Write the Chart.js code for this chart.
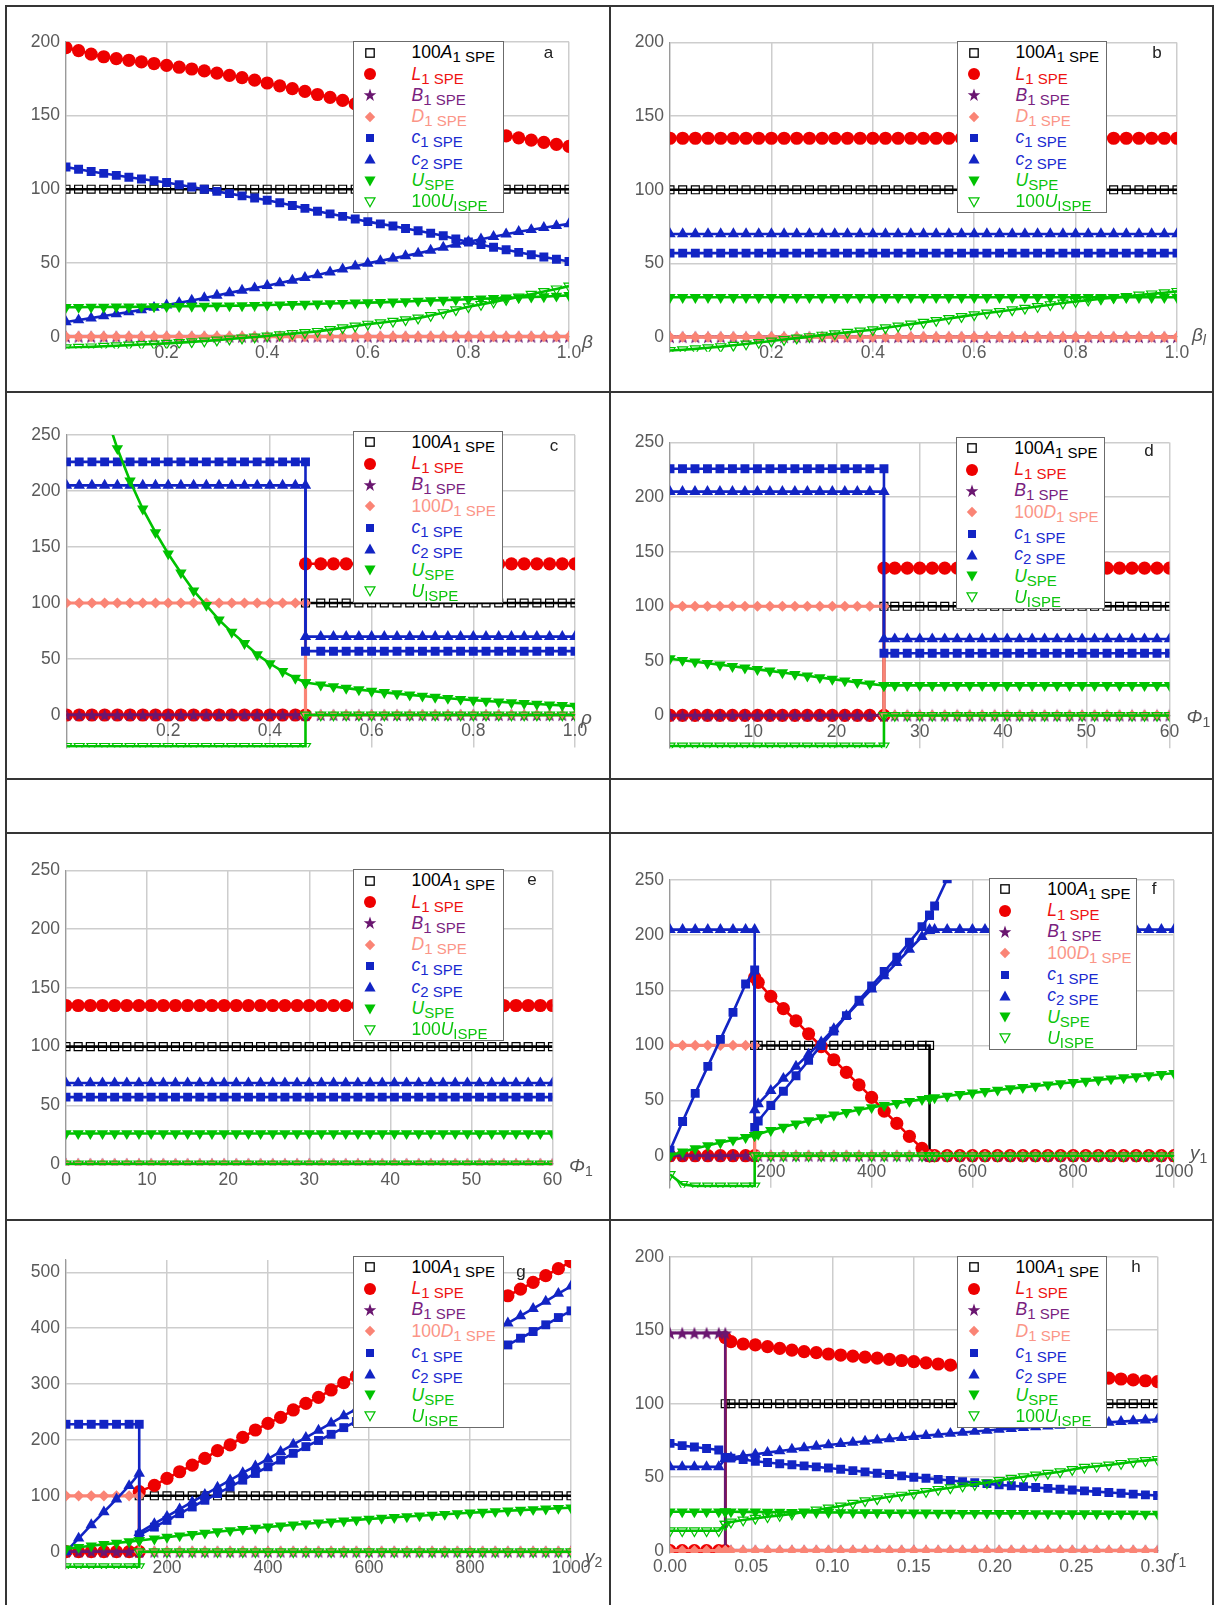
<!DOCTYPE html>
<html>
<head>
<meta charset="utf-8">
<title>SPE quantities versus model parameters</title>
<script src="https://cdn.jsdelivr.net/npm/chart.js@4.4.0/dist/chart.umd.min.js"></script>
<style>
  html, body { margin: 0; padding: 0; background: #ffffff; }
  #page { position: relative; width: 1219px; height: 1605px; overflow: hidden;
          font-family: "Liberation Sans", Arial, Helvetica, sans-serif; }
  .rule { position: absolute; background: #353535; }
  canvas { position: absolute; }
  .leg { position: absolute; background: #ffffff; border: 1.5px solid #6b6b6b; box-sizing: border-box; }
  .leg .row { position: absolute; left: 0; right: 0; height: 21px; }
  .leg svg { position: absolute; top: 3.5px; }
  .leg .lbl { position: absolute; top: 0; white-space: nowrap; font-size: 17.5px; line-height: 21px; }
  .leg sub { font-size: 15px; vertical-align: -4px; line-height: 0; }
  .tag { position: absolute; font-size: 17px; color: #222; transform: translate(-50%, -50%); line-height: 1; }
  .axname { position: absolute; font-size: 19px; color: #555; white-space: nowrap; line-height: 1; transform: translateY(-50%); }
  .axname sub { font-size: 14px; vertical-align: -4px; line-height: 0; }
</style>
</head>
<body>
<div id="page"></div>
<script>
// ---------------------------------------------------------------
// Series values. Order inside every panel:
// 100A1, L1, B1, D1 (or 100D1), c1, c2, U, U_I (or 100U_I)
// ---------------------------------------------------------------

// (a) versus beta
const aX = [0,0.025,0.05,0.075,0.1,0.125,0.15,0.175,0.2,0.225,
  0.25,0.275,0.3,0.325,0.35,0.375,0.4,0.425,0.45,0.475,
  0.5,0.525,0.55,0.575,0.6,0.625,0.65,0.675,0.7,0.725,
  0.75,0.775,0.8,0.825,0.85,0.875,0.9,0.925,0.95,0.975,1];
const aA = [100,100,100,100,100,100,100,100,100,100,100,100,100,100,100,100,100,100,100,100,
  100,100,100,100,100,100,100,100,100,100,100,100,100,100,100,100,100,100,100,100,100];
const aL = [196,194,191.6,189.8,188.5,187.4,186.3,185.2,184,182.7,
  181.5,180.2,178.7,177.2,175.7,174,172,170.1,168.2,166.3,
  164.2,162.3,160.2,157.8,155.8,154,152.2,150.4,148.6,146.8,
  145,143.2,141.4,139.6,137.8,136.2,134.8,133.3,131.8,130.4,129];
const aB = [0,0,0,0,0,0,0,0,0,0,0,0,0,0,0,0,0,0,0,0,0,0,0,0,0,0,0,0,0,0,0,0,0,0,0,0,0,0,0,0,0];
const aD = [0,0,0,0,0,0,0,0,0,0,0,0,0,0,0,0,0,0,0,0,0,0,0,0,0,0,0,0,0,0,0,0,0,0,0,0,0,0,0,0,0];
const aC1 = [115,113.5,112,110.7,109.4,108.1,106.9,105.7,104.5,103,
  101.5,100,98.5,97,95.5,94,92.5,90.8,89,87,
  85,83.3,81.6,79.8,78,76.5,75,73.4,71.8,70.1,
  68.4,66.2,64.2,62.4,60.6,58.9,57.2,55.6,54,52.5,51];
const aC2 = [10,11.3,12.6,14,15.4,16.8,18.2,19.8,21.4,23,
  24.6,26.3,28,29.7,31.4,33,34.6,36.4,38.2,40,
  41.8,43.8,45.8,47.8,49.7,51.4,53.1,54.8,56.5,58.5,
  60.5,62.5,64.4,66.1,67.8,69.5,71.2,72.5,73.9,75.2,76.5];
const aU = [20,20,20.1,20.1,20.2,20.2,20.3,20.4,20.5,20.6,
  20.7,20.8,20.9,21,21.1,21.3,21.5,21.7,21.9,22.1,
  22.3,22.5,22.7,22.9,23.1,23.3,23.6,23.9,24.2,24.5,
  24.8,25.1,25.4,25.7,26,26.3,26.6,26.9,27.2,27.6,28];
const aUI = [-7.5,-7.2,-6.9,-6.5,-6.1,-5.7,-5.3,-4.9,-4.5,-4,
  -3.5,-2.9,-2.3,-1.6,-0.9,-0.2,0.5,1.3,2.1,2.8,
  3.6,4.8,6,7.2,8.5,9.5,10.5,11.5,12.6,14.4,
  16.3,18.3,20.3,21.9,23.6,25.3,27,28.8,30.6,32.4,34.3];

// (b) versus beta_l
const bX = [0,0.025,0.05,0.075,0.1,0.125,0.15,0.175,0.2,0.225,
  0.25,0.275,0.3,0.325,0.35,0.375,0.4,0.425,0.45,0.475,
  0.5,0.525,0.55,0.575,0.6,0.625,0.65,0.675,0.7,0.725,
  0.75,0.775,0.8,0.825,0.85,0.875,0.9,0.925,0.95,0.975,1];
const bA = [100,100,100,100,100,100,100,100,100,100,100,100,100,100,100,100,100,100,100,100,
  100,100,100,100,100,100,100,100,100,100,100,100,100,100,100,100,100,100,100,100,100];
const bL = [135,135,135,135,135,135,135,135,135,135,135,135,135,135,135,135,135,135,135,135,
  135,135,135,135,135,135,135,135,135,135,135,135,135,135,135,135,135,135,135,135,135];
const bB = [0,0,0,0,0,0,0,0,0,0,0,0,0,0,0,0,0,0,0,0,0,0,0,0,0,0,0,0,0,0,0,0,0,0,0,0,0,0,0,0,0];
const bD = [0,0,0,0,0,0,0,0,0,0,0,0,0,0,0,0,0,0,0,0,0,0,0,0,0,0,0,0,0,0,0,0,0,0,0,0,0,0,0,0,0];
const bC1 = [57,57,57,57,57,57,57,57,57,57,57,57,57,57,57,57,57,57,57,57,
  57,57,57,57,57,57,57,57,57,57,57,57,57,57,57,57,57,57,57,57,57];
const bC2 = [70,70,70,70,70,70,70,70,70,70,70,70,70,70,70,70,70,70,70,70,
  70,70,70,70,70,70,70,70,70,70,70,70,70,70,70,70,70,70,70,70,70];
const bU = [27,27,27,27,27,27,27,27,27,27,27,27,27,27,27,27,27,27,27,27,
  27,27,27,27,27,27,27,27,27,27,27,27,27,27,27,27,27,27,27,27,27];
const bUI = [-9.2,-8.6,-8,-7.3,-6.5,-5.6,-4.7,-3.7,-2.7,-1.7,
  -0.7,0.3,1.3,2.3,3.2,4.1,5,6.3,7.5,8.8,
  10,11.3,12.6,13.9,15.2,16.3,17.4,18.5,19.6,20.8,
  22,23.1,24.2,25.1,26,26.8,27.6,28.5,29.3,30.1,31];

// (c) versus rho, switch at rho = 0.47
const cX = [0,0.025,0.05,0.075,0.1,0.125,0.15,0.175,0.2,0.225,
  0.25,0.275,0.3,0.325,0.35,0.375,0.4,0.425,0.45,0.47,
  0.47,0.5,0.525,0.55,0.575,0.6,0.625,0.65,0.675,0.7,
  0.725,0.75,0.775,0.8,0.825,0.85,0.875,0.9,0.925,0.95,0.975,1];
const cA = [0,0,0,0,0,0,0,0,0,0,0,0,0,0,0,0,0,0,0,0,
  100,100,100,100,100,100,100,100,100,100,100,100,100,100,100,100,100,100,100,100,100,100];
const cL = [0,0,0,0,0,0,0,0,0,0,0,0,0,0,0,0,0,0,0,0,
  135,135,135,135,135,135,135,135,135,135,135,135,135,135,135,135,135,135,135,135,135,135];
const cB = [0,0,0,0,0,0,0,0,0,0,0,0,0,0,0,0,0,0,0,0,
  0,0,0,0,0,0,0,0,0,0,0,0,0,0,0,0,0,0,0,0,0,0];
const cD = [100,100,100,100,100,100,100,100,100,100,100,100,100,100,100,100,100,100,100,100,
  0,0,0,0,0,0,0,0,0,0,0,0,0,0,0,0,0,0,0,0,0,0];
const cC1 = [226,226,226,226,226,226,226,226,226,226,226,226,226,226,226,226,226,226,226,226,
  57,57,57,57,57,57,57,57,57,57,57,57,57,57,57,57,57,57,57,57,57,57];
const cC2 = [205,205,205,205,205,205,205,205,205,205,205,205,205,205,205,205,205,205,205,205,
  70,70,70,70,70,70,70,70,70,70,70,70,70,70,70,70,70,70,70,70,70,70];
const cU = [400,350,307,272,238,209,184,163,144,127,
  111,98,85,74,64,54,46,39,33,29,
  29,27,25.5,24,22.7,21.4,20.2,19.1,18,17,
  16,15,14.1,13.3,12.5,11.8,11.1,10.4,9.8,9.2,8.6,8];
const cUI = [-28,-28,-28,-28,-28,-28,-28,-28,-28,-28,-28,-28,-28,-28,-28,-28,-28,-28,-28,-28,
  0,0,0,0,0,0,0,0,0,0,0,0,0,0,0,0,0,0,0,0,0,0];

// (d) versus Phi_1, switch at Phi_1 = 25.7
const dX = [0,1.5,3,4.5,6,7.5,9,10.5,12,13.5,15,16.5,18,19.5,21,22.5,24,25.7,
  25.7,27,28.5,30,31.5,33,34.5,36,37.5,39,40.5,42,43.5,45,46.5,48,49.5,51,52.5,54,55.5,57,58.5,60];
const dA = [0,0,0,0,0,0,0,0,0,0,0,0,0,0,0,0,0,0,
  100,100,100,100,100,100,100,100,100,100,100,100,100,100,100,100,100,100,100,100,100,100,100,100];
const dL = [0,0,0,0,0,0,0,0,0,0,0,0,0,0,0,0,0,0,
  135,135,135,135,135,135,135,135,135,135,135,135,135,135,135,135,135,135,135,135,135,135,135,135];
const dB = [0,0,0,0,0,0,0,0,0,0,0,0,0,0,0,0,0,0,
  0,0,0,0,0,0,0,0,0,0,0,0,0,0,0,0,0,0,0,0,0,0,0,0];
const dD = [100,100,100,100,100,100,100,100,100,100,100,100,100,100,100,100,100,100,
  0,0,0,0,0,0,0,0,0,0,0,0,0,0,0,0,0,0,0,0,0,0,0,0];
const dC1 = [226,226,226,226,226,226,226,226,226,226,226,226,226,226,226,226,226,226,
  57,57,57,57,57,57,57,57,57,57,57,57,57,57,57,57,57,57,57,57,57,57,57,57];
const dC2 = [205,205,205,205,205,205,205,205,205,205,205,205,205,205,205,205,205,205,
  70,70,70,70,70,70,70,70,70,70,70,70,70,70,70,70,70,70,70,70,70,70,70,70];
const dU = [52,50.6,49.2,47.8,46.4,45,43.6,42.2,40.8,39.3,37.8,36.3,34.8,33.3,31.8,30.3,28.9,27.5,
  27.5,27.5,27.5,27.5,27.5,27.5,27.5,27.5,27.5,27.5,27.5,27.5,27.5,27.5,27.5,27.5,27.5,27.5,27.5,27.5,27.5,27.5,27.5,27.5];
const dUI = [-28,-28,-28,-28,-28,-28,-28,-28,-28,-28,-28,-28,-28,-28,-28,-28,-28,-28,
  0,0,0,0,0,0,0,0,0,0,0,0,0,0,0,0,0,0,0,0,0,0,0,0];

// (e) versus phi_1
const eX = [0,1.5,3,4.5,6,7.5,9,10.5,12,13.5,15,16.5,18,19.5,21,22.5,24,25.5,27,28.5,
  30,31.5,33,34.5,36,37.5,39,40.5,42,43.5,45,46.5,48,49.5,51,52.5,54,55.5,57,58.5,60];
const eA = [100,100,100,100,100,100,100,100,100,100,100,100,100,100,100,100,100,100,100,100,
  100,100,100,100,100,100,100,100,100,100,100,100,100,100,100,100,100,100,100,100,100];
const eL = [135,135,135,135,135,135,135,135,135,135,135,135,135,135,135,135,135,135,135,135,
  135,135,135,135,135,135,135,135,135,135,135,135,135,135,135,135,135,135,135,135,135];
const eB = [0,0,0,0,0,0,0,0,0,0,0,0,0,0,0,0,0,0,0,0,0,0,0,0,0,0,0,0,0,0,0,0,0,0,0,0,0,0,0,0,0];
const eD = [0,0,0,0,0,0,0,0,0,0,0,0,0,0,0,0,0,0,0,0,0,0,0,0,0,0,0,0,0,0,0,0,0,0,0,0,0,0,0,0,0];
const eC1 = [57,57,57,57,57,57,57,57,57,57,57,57,57,57,57,57,57,57,57,57,
  57,57,57,57,57,57,57,57,57,57,57,57,57,57,57,57,57,57,57,57,57];
const eC2 = [69,69,69,69,69,69,69,69,69,69,69,69,69,69,69,69,69,69,69,69,
  69,69,69,69,69,69,69,69,69,69,69,69,69,69,69,69,69,69,69,69,69];
const eU = [26,26,26,26,26,26,26,26,26,26,26,26,26,26,26,26,26,26,26,26,
  26,26,26,26,26,26,26,26,26,26,26,26,26,26,26,26,26,26,26,26,26];
const eUI = [0,0,0,0,0,0,0,0,0,0,0,0,0,0,0,0,0,0,0,0,0,0,0,0,0,0,0,0,0,0,0,0,0,0,0,0,0,0,0,0,0];

// (f) versus y_1, switches at 168 and 515
const fX = [0,25,50,75,100,125,150,168,
  168,175,200,225,250,275,300,325,350,375,400,425,450,475,500,515,
  515,525,550,575,600,625,650,675,700,725,750,775,800,825,850,875,900,925,950,975,1000];
const fA = [0,0,0,0,0,0,0,0,
  100,100,100,100,100,100,100,100,100,100,100,100,100,100,100,100,
  0,0,0,0,0,0,0,0,0,0,0,0,0,0,0,0,0,0,0,0,0];
const fL = [0,0,0,0,0,0,0,0,
  161.7,157.2,144.5,133.3,122.2,110.5,99,87,75.5,64.2,52.9,40.5,29.3,17.5,6.7,0,
  0,0,0,0,0,0,0,0,0,0,0,0,0,0,0,0,0,0,0,0,0];
const fB = [0,0,0,0,0,0,0,0,
  0,0,0,0,0,0,0,0,0,0,0,0,0,0,0,0,
  0,0,0,0,0,0,0,0,0,0,0,0,0,0,0,0,0,0,0,0,0];
const fD = [100,100,100,100,100,100,100,100,
  0,0,0,0,0,0,0,0,0,0,0,0,0,0,0,0,
  0,0,0,0,0,0,0,0,0,0,0,0,0,0,0,0,0,0,0,0,0];
const fC1 = [5,31,56.5,81,105.5,130,155.7,168.4,
  25.7,31.5,45.5,58.5,72.5,86.5,100,113,127,141,154,167,180,193.5,207.7,218,
  218,226.4,251,272,293,314,335,356,377,398,419,440,461,482,503,524,545,566,587,608,629];
const fC2 = [205,205,205,205,205,205,205,205,
  41.4,47,59,70,81,92,103,115,127,139,151,163,175,187,198.6,204,
  205,205,205,205,205,205,205,205,205,205,205,205,205,205,205,205,205,205,205,205,205];
const fU = [0,3.5,6.5,9.3,11.9,14.3,16.7,18.4,
  18.4,19.5,23,26,29,31.8,34.5,37,39.4,41.6,43.7,45.7,47.6,49.4,51.1,52.1,
  52.1,52.7,54.2,55.6,57,58.3,59.6,60.8,62,63.2,64.4,65.5,66.6,67.7,68.8,69.8,70.8,71.8,72.8,73.8,74.8];
const fUI = [-17,-26,-27.5,-27.5,-27.5,-27.5,-27.5,-27.5,
  0,0,0,0,0,0,0,0,0,0,0,0,0,0,0,0,
  0,0,0,0,0,0,0,0,0,0,0,0,0,0,0,0,0,0,0,0,0];

// (g) versus y_2, switch at 145
const gX = [0,25,50,75,100,125,145,
  145,175,200,225,250,275,300,325,350,375,400,425,450,475,500,525,550,575,600,625,650,675,700,
  725,750,775,800,825,850,875,900,925,950,975,1000];
const gA = [0,0,0,0,0,0,0,
  100,100,100,100,100,100,100,100,100,100,100,100,100,100,100,100,100,100,100,100,100,100,100,
  100,100,100,100,100,100,100,100,100,100,100,100];
const gL = [0,0,0,0,0,0,0,
  107.4,118.7,131.3,143,155,167,180.8,191,204.6,217.8,229.7,240.5,253.6,265.5,276.2,289.4,302.5,314,326,338,350,362,374,
  386,398,410,422,434,446,458,470,482,494,506.5,519];
const gB = [0,0,0,0,0,0,0,
  0,0,0,0,0,0,0,0,0,0,0,0,0,0,0,0,0,0,0,0,0,0,0,
  0,0,0,0,0,0,0,0,0,0,0,0];
const gD = [100,100,100,100,100,100,100,
  0,0,0,0,0,0,0,0,0,0,0,0,0,0,0,0,0,0,0,0,0,0,0,
  0,0,0,0,0,0,0,0,0,0,0,0];
const gC1 = [228,228,228,228,228,228,228,
  30,44,56,68,80,92,104,116,128,140,152,164,176,188,199,210,222,233,244,256,267,279,290,
  302,313,325,336,347,359,370,382,394,406,419,431];
const gC2 = [0,24,48,71,94,118,140,
  34,50,63,76,89,102,115,128,141,153,166,179,192,204,217,230,243,255,268,281,294,306,319,
  332,345,357,370,383,396,409,422,435,448,462,475];
const gU = [5,8,10.5,13,15.5,18,20,
  20,23,26,28.5,31,33.5,35.8,38,40.2,42.3,44.3,46.2,48.1,50,51.8,53.5,55.2,56.9,58.5,60,61.5,62.9,64.3,
  65.7,67,68.3,69.6,70.8,72,73.2,74.4,75.5,76.6,77.7,78.7];
const gUI = [-27,-27,-27,-27,-27,-27,-27,
  0,0,0,0,0,0,0,0,0,0,0,0,0,0,0,0,0,0,0,0,0,0,0,
  0,0,0,0,0,0,0,0,0,0,0,0];

// (h) versus r_1, switch at 0.034
const hX = [0,0.0075,0.015,0.0225,0.03,0.034,
  0.034,0.0375,0.045,0.0525,0.06,0.0675,0.075,0.0825,0.09,0.0975,
  0.105,0.1125,0.12,0.1275,0.135,0.1425,0.15,0.1575,0.165,0.1725,
  0.18,0.1875,0.195,0.2025,0.21,0.2175,0.225,0.2325,0.24,0.2475,
  0.255,0.2625,0.27,0.2775,0.285,0.2925,0.3];
const hA = [0,0,0,0,0,0,
  100,100,100,100,100,100,100,100,100,100,100,100,100,100,100,100,100,100,100,100,
  100,100,100,100,100,100,100,100,100,100,100,100,100,100,100,100,100];
const hL = [0,0,0,0,0,0,
  145,142.2,140.6,140,138.8,137.6,136.5,135.4,134.7,133.8,
  133.1,132.4,131.7,131,130.2,129.4,128.6,127.8,127,126.3,
  125.6,124.9,124.2,123.5,122.8,122.1,121.4,120.7,120,119.3,
  118.6,118,117.4,116.8,116.2,115.6,115];
const hB = [148,148,148,148,148,148,
  0,0,0,0,0,0,0,0,0,0,0,0,0,0,0,0,0,0,0,0,
  0,0,0,0,0,0,0,0,0,0,0,0,0,0,0,0,0];
const hD = [0,0,0,0,0,0,
  0,0,0,0,0,0,0,0,0,0,0,0,0,0,0,0,0,0,0,0,
  0,0,0,0,0,0,0,0,0,0,0,0,0,0,0,0,0];
const hC1 = [73,71.5,70.5,69.5,68.5,63.5,
  63.5,63,62,60.8,60,59.2,58.5,57.7,57,56.3,
  55.4,54.5,53.6,52.7,51.8,50.9,50,49.3,48.5,47.8,
  47,46.3,45.6,44.8,44.2,43.6,43,42.4,41.8,41.3,
  40.7,40.2,39.6,39.1,38.5,38,37.5];
const hC2 = [57,57,57,57,57,62.5,
  62.5,63.3,64.5,65.6,66.7,67.8,68.9,69.9,70.9,71.9,
  72.8,73.6,74.4,75.2,76,76.8,77.6,78.3,79,79.7,
  80.4,81.1,81.8,82.4,83,83.6,84.2,84.7,85.2,85.8,
  86.3,86.8,87.3,87.8,88.3,88.8,89.3];
const hU = [26.5,26.5,26.5,26.5,26.5,26.5,
  26.5,26.5,26.4,26.4,26.3,26.3,26.2,26.2,26.1,26.1,
  26,26,25.9,25.9,25.8,25.8,25.7,25.7,25.6,25.6,
  25.5,25.5,25.5,25.4,25.4,25.4,25.3,25.3,25.3,25.2,
  25.2,25.2,25.1,25.1,25.1,25,25];
const hUI = [13.6,13.6,13.6,13.6,13.6,18,
  18,19.5,20.9,22,23.1,24,25,26.4,27.7,29,
  30.4,32.2,34,35.3,36.7,37.8,39,40.3,41.7,42.8,
  44,45.1,46.3,47.7,49.2,50.3,51.5,52.6,53.7,55.2,
  56.7,57.5,58.3,59.4,60.5,61.3,62.1];

// ---------------------------------------------------------------
// Styling
// ---------------------------------------------------------------
Chart.defaults.font.family = '"Liberation Sans", Arial, Helvetica, sans-serif';

const INK = {
  black: '#000000', red: '#ee0000', purple: '#6a1670', pink: '#fa8475',
  blue: '#1224c4', green: '#00c200'
};
const TXT = {
  black: '#000000', red: '#ee1111', purple: '#7a1f80', pink: '#fb9587',
  blue: '#1a2ad0', green: '#0cc40c'
};
const GRID = '#cdcdcd';
const AXIS = '#9a9a9a';
const TICK = '#5a5a5a';
const YW = 48; // reserved width of the y axis column

function makeStar(size, color) {
  const c = document.createElement('canvas');
  c.width = size; c.height = size;
  const g = c.getContext('2d');
  const r = size / 2, ri = r * 0.42;
  g.beginPath();
  for (let k = 0; k < 10; k++) {
    const ang = -Math.PI / 2 + k * Math.PI / 5;
    const rr = (k % 2) ? ri : r;
    g.lineTo(r + rr * Math.cos(ang), r + 0.6 + rr * Math.sin(ang));
  }
  g.closePath();
  g.fillStyle = color;
  g.fill();
  return c;
}
const STAR = makeStar(14, INK.purple);

const MARKS = [
  { color: INK.black,  style: 'rect',     r: 5.6, fill: 'rgba(0,0,0,0)', pw: 1.2, rot: 0, lw: 2.6 },
  { color: INK.red,    style: 'circle',   r: 6.6, fill: INK.red,    pw: 0,   rot: 0,   lw: 2.6 },
  { color: INK.purple, style: STAR,       r: 7,   fill: INK.purple, pw: 0,   rot: 0,   lw: 2.6 },
  { color: INK.pink,   style: 'rectRot',  r: 5.6, fill: INK.pink,   pw: 0,   rot: 0,   lw: 3.2 },
  { color: INK.blue,   style: 'rect',     r: 6.3, fill: INK.blue,   pw: 0,   rot: 0,   lw: 2.6 },
  { color: INK.blue,   style: 'triangle', r: 6.6, fill: INK.blue,   pw: 0,   rot: 0,   lw: 2.6 },
  { color: INK.green,  style: 'triangle', r: 6.6, fill: INK.green,  pw: 0,   rot: 180, lw: 2.6 },
  { color: INK.green,  style: 'triangle', r: 5.8, fill: 'rgba(0,0,0,0)', pw: 1.2, rot: 180, lw: 2.6 }
];

// ---------------------------------------------------------------
// Panel layout (canvas box, plot rectangle, axes, legend placement)
// ---------------------------------------------------------------
const PANELS = [
  { tag: 'a', xs: aX, ys: [aA, aL, aB, aD, aC1, aC2, aU, aUI],
    cx: 7, cy: 7, cw: 602, ch: 384, plot: { l: 66, r: 569, t: 41.7, b: 348.5 },
    x: { min: 0, max: 1, step: 0.2, dec: 1, zero: false }, y: { min: -8, max: 200, step: 50 },
    leg: { x: 353, y: 41, w: 151, h: 172 }, tagAt: { x: 548.5, y: 52 },
    name: '<i>β</i>', nameAt: { dx: 13, y0: 336.7, dy: 4 }, d100: false, u100: true },
  { tag: 'b', xs: bX, ys: [bA, bL, bB, bD, bC1, bC2, bU, bUI],
    cx: 611, cy: 7, cw: 601, ch: 384, plot: { l: 670, r: 1177, t: 42.5, b: 351.8 },
    x: { min: 0, max: 1, step: 0.2, dec: 1, zero: false }, y: { min: -10, max: 200, step: 50 },
    leg: { x: 957, y: 41, w: 150, h: 172 }, tagAt: { x: 1157, y: 52 },
    name: '<i>β</i><sub><i>l</i></sub>', nameAt: { dx: 15, y0: 337, dy: -3 }, d100: false, u100: true },
  { tag: 'c', xs: cX, ys: [cA, cL, cB, cD, cC1, cC2, cU, cUI],
    cx: 7, cy: 393, cw: 602, ch: 384, plot: { l: 66.5, r: 575, t: 435, b: 747.5 },
    x: { min: 0, max: 1, step: 0.2, dec: 1, zero: false }, y: { min: -29, max: 250, step: 50 },
    leg: { x: 353, y: 430.7, w: 149.5, h: 172 }, tagAt: { x: 554, y: 445 },
    name: '<i>ρ</i>', nameAt: { dx: 6, y0: 715, dy: 2 }, d100: true, u100: false },
  { tag: 'd', xs: dX, ys: [dA, dL, dB, dD, dC1, dC2, dU, dUI],
    cx: 611, cy: 393, cw: 601, ch: 384, plot: { l: 670, r: 1169.5, t: 442.5, b: 748.2 },
    x: { min: 0, max: 60, step: 10, dec: 0, zero: false }, y: { min: -30, max: 250, step: 50 },
    leg: { x: 955.7, y: 436.7, w: 149.5, h: 172 }, tagAt: { x: 1149, y: 450 },
    name: '<i>Φ</i><sub>1</sub>', nameAt: { dx: 17, y0: 715.4, dy: 1 }, d100: true, u100: false },
  { tag: 'e', xs: eX, ys: [eA, eL, eB, eD, eC1, eC2, eU, eUI],
    cx: 7, cy: 834, cw: 602, ch: 384, plot: { l: 66, r: 552.5, t: 870.5, b: 1165.2 },
    x: { min: 0, max: 60, step: 10, dec: 0, zero: true }, y: { min: -1, max: 250, step: 50 },
    leg: { x: 353, y: 869, w: 151, h: 172 }, tagAt: { x: 532, y: 879 },
    name: '<i>Φ</i><sub>1</sub>', nameAt: { dx: 16.5, y0: 1164, dy: 1 }, d100: false, u100: true },
  { tag: 'f', xs: fX, ys: [fA, fL, fB, fD, fC1, fC2, fU, fUI],
    cx: 611, cy: 834, cw: 601, ch: 384, plot: { l: 670, r: 1174, t: 880, b: 1187.7 },
    x: { min: 0, max: 1000, step: 200, dec: 0, zero: false }, y: { min: -29, max: 250, step: 50 },
    leg: { x: 988.7, y: 877.7, w: 148.5, h: 172 }, tagAt: { x: 1154, y: 888 },
    name: '<i>y</i><sub>1</sub>', nameAt: { dx: 16, y0: 1155.7, dy: -4 }, d100: true, u100: false },
  { tag: 'g', xs: gX, ys: [gA, gL, gB, gD, gC1, gC2, gU, gUI],
    cx: 7, cy: 1221, cw: 602, ch: 384, plot: { l: 66, r: 571, t: 1260, b: 1569 },
    x: { min: 0, max: 1000, step: 200, dec: 0, zero: false }, y: { min: -31, max: 522, step: 100 },
    leg: { x: 353, y: 1255.7, w: 151, h: 172.5 }, tagAt: { x: 521, y: 1271 },
    name: '<i>y</i><sub>2</sub>', nameAt: { dx: 14, y0: 1551.7, dy: 4 }, d100: true, u100: false },
  { tag: 'h', xs: hX, ys: [hA, hL, hB, hD, hC1, hC2, hU, hUI],
    cx: 611, cy: 1221, cw: 601, ch: 384, plot: { l: 670, r: 1157.6, t: 1256.7, b: 1552.9 },
    x: { min: 0, max: 0.3, step: 0.05, dec: 2, zero: true }, y: { min: -1.5, max: 200, step: 50 },
    leg: { x: 957, y: 1255.7, w: 150, h: 172.5 }, tagAt: { x: 1136, y: 1266 },
    name: '<i>r</i><sub>1</sub>', nameAt: { dx: 14.5, y0: 1550.7, dy: 5 }, d100: false, u100: true }
];

const page = document.getElementById('page');

// table rules
[[5, 5, 1209, 2], [5, 391, 1209, 2], [5, 778, 1209, 2], [5, 832, 1209, 2], [5, 1219, 1209, 2],
 [5, 5, 2, 1600], [609, 5, 2, 1600], [1212, 5, 2, 1600]].forEach(([l, t, w, h]) => {
  const d = document.createElement('div');
  d.className = 'rule';
  d.style.cssText = `left:${l}px;top:${t}px;width:${w}px;height:${h}px;`;
  page.appendChild(d);
});

function pairs(xs, ys) {
  return xs.map((x, i) => ({ x: x, y: ys[i] }));
}

// tick positions 0, step, 2*step, ... up to the axis maximum
function tickValues(step, max) {
  const out = [];
  for (let k = 0; k * step <= max + 1e-9; k++) {
    out.push({ value: Math.round(k * step * 1e6) / 1e6 });
  }
  return out;
}

function buildChart(p) {
  const cv = document.createElement('canvas');
  cv.width = p.cw; cv.height = p.ch;
  cv.style.left = p.cx + 'px'; cv.style.top = p.cy + 'px';
  cv.style.width = p.cw + 'px'; cv.style.height = p.ch + 'px';
  page.appendChild(cv);

  const datasets = p.ys.map((ys, k) => {
    const m = MARKS[k];
    return {
      data: pairs(p.xs, ys),
      order: 7 - k,
      borderColor: m.color,
      borderWidth: m.lw,
      tension: 0,
      fill: false,
      pointStyle: m.style,
      pointRadius: m.r,
      pointRotation: m.rot,
      pointBackgroundColor: m.fill,
      pointBorderColor: m.color,
      pointBorderWidth: m.pw
    };
  });

  new Chart(cv, {
    type: 'line',
    data: { datasets },
    options: {
      responsive: false,
      animation: false,
      devicePixelRatio: 1,
      events: [],
      layout: {
        padding: {
          left: p.plot.l - p.cx - YW,
          right: p.cx + p.cw - p.plot.r,
          top: p.plot.t - p.cy,
          bottom: p.cy + p.ch - p.plot.b
        }
      },
      plugins: { legend: { display: false }, tooltip: { enabled: false } },
      scales: {
        x: {
          type: 'linear',
          position: { y: 0 },
          min: p.x.min, max: p.x.max,
          afterBuildTicks: (s) => { s.ticks = tickValues(p.x.step, p.x.max); },
          grid: { color: GRID, lineWidth: 1.5, drawTicks: false },
          border: { display: true, color: AXIS, width: 1.2 },
          ticks: {
            autoSkip: false, maxRotation: 0,
            padding: 6, color: TICK, font: { size: 17.5 },
            callback: (v) => (Math.abs(v) < 1e-9 && !p.x.zero) ? '' : Number(v).toFixed(p.x.dec)
          }
        },
        y: {
          type: 'linear',
          position: 'left',
          min: p.y.min, max: p.y.max,
          afterFit: (s) => { s.width = YW; },
          afterBuildTicks: (s) => { s.ticks = tickValues(p.y.step, p.y.max); },
          grid: { color: GRID, lineWidth: 1.5, drawTicks: false },
          border: { display: true, color: AXIS, width: 1.2 },
          ticks: {
            autoSkip: false, padding: 6, color: TICK, font: { size: 17.5 },
            callback: (v) => String(Math.round(v))
          }
        }
      }
    }
  });
}

const MARK_SVG = {
  sqOpen:  (c) => `<rect x="2.8" y="2.8" width="8.4" height="8.4" fill="none" stroke="${c}" stroke-width="1.3"/>`,
  circle:  (c) => `<circle cx="7" cy="7" r="6" fill="${c}"/>`,
  star:    (c) => `<polygon points="7,0.6 8.6,5.3 13.3,5.3 9.5,8.2 10.9,12.9 7,10 3.1,12.9 4.5,8.2 0.7,5.3 5.4,5.3" fill="${c}"/>`,
  diamond: (c) => `<polygon points="7,1.8 12.2,7 7,12.2 1.8,7" fill="${c}"/>`,
  sq:      (c) => `<rect x="3" y="3" width="8" height="8" fill="${c}"/>`,
  tri:     (c) => `<polygon points="7,1.6 12.6,11.6 1.4,11.6" fill="${c}"/>`,
  down:    (c) => `<polygon points="1.4,2.4 12.6,2.4 7,12.4" fill="${c}"/>`,
  downOpen:(c) => `<polygon points="2,2.8 12,2.8 7,11.8" fill="none" stroke="${c}" stroke-width="1.2"/>`
};

function buildLegend(p) {
  const rows = [
    ['sqOpen', INK.black, TXT.black, '100<i>A</i><sub>1 SPE</sub>'],
    ['circle', INK.red, TXT.red, '<i>L</i><sub>1 SPE</sub>'],
    ['star', INK.purple, TXT.purple, '<i>B</i><sub>1 SPE</sub>'],
    ['diamond', INK.pink, TXT.pink, (p.d100 ? '100' : '') + '<i>D</i><sub>1 SPE</sub>'],
    ['sq', INK.blue, TXT.blue, '<i>c</i><sub>1 SPE</sub>'],
    ['tri', INK.blue, TXT.blue, '<i>c</i><sub>2 SPE</sub>'],
    ['down', INK.green, TXT.green, '<i>U</i><sub>SPE</sub>'],
    ['downOpen', INK.green, TXT.green, (p.u100 ? '100' : '') + '<i>U</i><sub>ISPE</sub>']
  ];
  const box = document.createElement('div');
  box.className = 'leg';
  box.style.cssText = `left:${p.leg.x}px;top:${p.leg.y}px;width:${p.leg.w}px;height:${p.leg.h}px;`;
  box.innerHTML = rows.map((r, i) =>
    `<div class="row" style="top:${(0.2 + 21.3 * i).toFixed(1)}px">` +
    `<svg width="14" height="14" viewBox="0 0 14 14" style="left:${8.5}px">${MARK_SVG[r[0]](r[1])}</svg>` +
    `<span class="lbl" style="left:57.5px;color:${r[2]}">${r[3]}</span></div>`
  ).join('');
  page.appendChild(box);

  const t = document.createElement('div');
  t.className = 'tag';
  t.style.left = p.tagAt.x + 'px';
  t.style.top = p.tagAt.y + 'px';
  t.textContent = p.tag;
  page.appendChild(t);

  const n = document.createElement('div');
  n.className = 'axname';
  n.style.left = (p.plot.r + p.nameAt.dx) + 'px';
  n.style.top = (p.nameAt.y0 + p.nameAt.dy) + 'px';
  n.innerHTML = p.name;
  page.appendChild(n);
}

PANELS.forEach((p) => {
  p.ys.forEach((ys, k) => {
    if (ys.length !== p.xs.length) console.error('length mismatch in panel ' + p.tag + ', series ' + k);
  });
  buildChart(p);
  buildLegend(p);
});
</script>
</body>
</html>
